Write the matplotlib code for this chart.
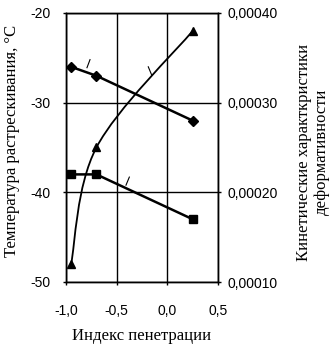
import numpy as np
import matplotlib
matplotlib.use("Agg")
import matplotlib.pyplot as plt
from matplotlib.path import Path
from matplotlib.patches import PathPatch
from matplotlib.ticker import FuncFormatter

# penetration index
pi_idx = [-0.95, -0.70, 0.25]
# cracking temperature, deg C (left axis)
t_crack = [-48, -35, -22]
# kinetic deformability characteristics (right axis)
kin_1 = [0.00034, 0.00033, 0.00028]
kin_2 = [0.00022, 0.00022, 0.00017]

x_ticks = [-1.0, -0.5, 0.0, 0.5]
yl_ticks = [-50, -40, -30, -20]
yr_ticks = [0.00010, 0.00020, 0.00030, 0.00040]

tick_font = "Liberation Sans"
label_font = "Liberation Serif"

fig = plt.figure(figsize=(3.34, 3.46), dpi=100)
ax = fig.add_axes([66 / 334, 1 - 282 / 346, 152 / 334, 269 / 346])
ax2 = ax.twinx()

ax.set_xlim(-1.0, 0.5)
ax.set_ylim(-50, -20)
ax2.set_ylim(0.0001, 0.0004)

ax.set_xticks(x_ticks)
ax.set_yticks(yl_ticks)
ax2.set_yticks(yr_ticks)
comma = lambda fmt: FuncFormatter(lambda v, p: format(v, fmt).replace(".", ","))
ax.xaxis.set_major_formatter(comma(".1f"))
ax.yaxis.set_major_formatter(FuncFormatter(lambda v, p: "%d" % v))
ax2.yaxis.set_major_formatter(comma(".5f"))

ax.grid(True, color="black", linewidth=1.0)
for a in (ax, ax2):
    a.tick_params(direction="out", length=2, width=1, labelsize=10)
    for lab in a.get_xticklabels() + a.get_yticklabels():
        lab.set_fontfamily(tick_font)
    for s in a.spines.values():
        s.set_linewidth(1.0)
ax.tick_params(axis="x", pad=14)
ax.tick_params(axis="y", pad=9)
ax2.tick_params(axis="y", pad=5)

# smoothed curve through the temperature points (cardinal bezier in screen space)
pts = ax.transData.transform(np.column_stack([pi_idx, t_crack]))
ext = np.vstack([pts[0], pts, pts[-1]])
verts = [pts[0]]
codes = [Path.MOVETO]
for i in range(1, len(ext) - 2):
    p0, p1, p2, p3 = ext[i - 1], ext[i], ext[i + 1], ext[i + 2]
    verts += [p1 + (p2 - p0) / 6, p2 - (p3 - p1) / 6, p2]
    codes += [Path.CURVE4] * 3
verts = ax.transData.inverted().transform(np.array(verts))
ax.add_patch(PathPatch(Path(verts, codes), fill=False, edgecolor="black",
                       linewidth=1.3, zorder=3))
ax.plot(pi_idx, t_crack, linestyle="none", marker="^", color="black",
        markersize=6, zorder=4)

ax2.plot(pi_idx, kin_1, color="black", linewidth=1.8, marker="D", markersize=5)
ax2.plot(pi_idx, kin_2, color="black", linewidth=1.8, marker="s", markersize=6)

# small leader strokes next to the lines
for xs, ys in [((-0.793, -0.763), (-26.1, -25.2)),
               ((-0.188, -0.155), (-26.0, -26.9)),
               ((-0.408, -0.375), (-39.2, -38.3))]:
    ax.plot(xs, ys, color="black", linewidth=0.8)

fig.text(142 / 334, 1 - 336 / 346, "Индекс пенетрации",
         fontfamily=label_font, fontsize=12, ha="center", va="center")
fig.text(12 / 334, 1 - 141 / 346, "Температура растрескивания, °С",
         fontfamily=label_font, fontsize=12, rotation=90,
         ha="center", va="center")
fig.text(313 / 334, 1 - 152 / 346, "Кинетические характкристики\nдеформативности",
         fontfamily=label_font, fontsize=12, rotation=90, ha="center",
         va="center", multialignment="center", linespacing=1.2)

fig.savefig("out.png", dpi=100)
